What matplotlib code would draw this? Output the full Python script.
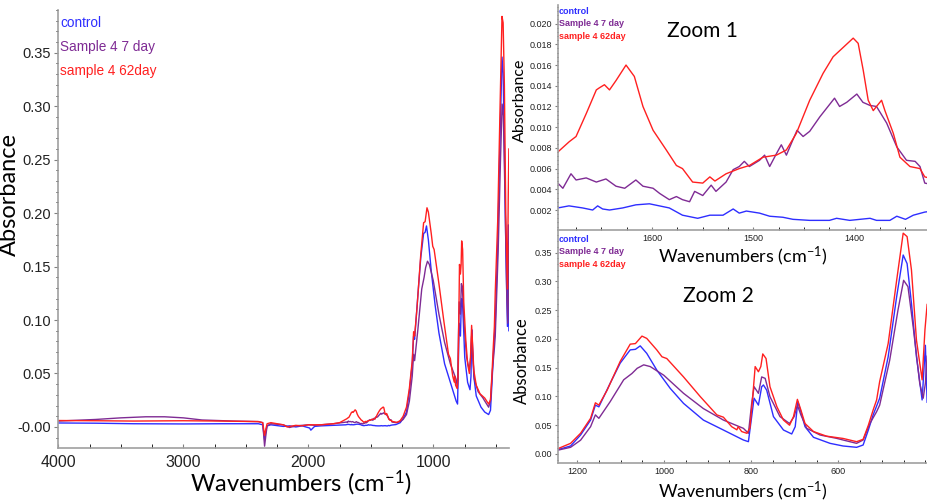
import matplotlib.pyplot as plt
from matplotlib.ticker import MultipleLocator, FixedLocator

# FTIR spectra: wavenumber (cm-1) and absorbance for each sample
wn_control = [4000, 3700, 3400, 3000, 2700, 2400, 2365, 2350, 2340, 2330, 2300, 2200, 2150,
              2100, 2050, 1990, 1980, 1950, 1900, 1800, 1700,
              1693, 1682, 1668.5, 1658.6, 1653.7, 1648.8, 1642, 1629, 1616, 1602.6, 1592.8, 1583,
              1570, 1555, 1543, 1530, 1520, 1514, 1507, 1494, 1484, 1471, 1461, 1444.5, 1425,
              1418, 1405, 1385, 1378.6, 1365.4, 1358.6, 1350, 1342.3, 1331, 1300, 1265,
              1242, 1215, 1192, 1169, 1158, 1150, 1124, 1101, 1078, 1066, 1055, 1040, 1017, 986,
              955.5, 910, 864, 818, 806.5, 799, 793.5, 783.5, 776, 772, 764.5, 749, 726, 707, 699,
              693, 686, 676.5, 657, 619, 589, 558, 543, 531, 520, 505, 485.5, 466, 451, 442, 432,
              420.5, 407.5, 400, 396]
abs_control = [0.0037, 0.0035, 0.003, 0.0028, 0.003, 0.003, 0.002, -0.012, -0.004, 0.001, 0.002,
               0.0005, 0.001, 0.0, 0.001, -0.001, -0.003, 0.0005, 0.001, 0.0015, 0.002,
               0.0022, 0.0024, 0.0022, 0.0020, 0.0024, 0.0021, 0.0020, 0.0022, 0.0025, 0.0026,
               0.0024, 0.0022, 0.0015, 0.0012, 0.0015, 0.0015, 0.0021, 0.0017, 0.0019, 0.0017,
               0.0014, 0.0013, 0.0011, 0.0010, 0.0010, 0.0012, 0.0010, 0.0012, 0.0010, 0.0010,
               0.0014, 0.0011, 0.0015, 0.0018, 0.0022, 0.004,
               0.008, 0.0139, 0.033, 0.059, 0.085, 0.082, 0.123, 0.158, 0.181, 0.182, 0.188,
               0.175, 0.146, 0.114, 0.088, 0.059, 0.0417, 0.0243, 0.0214, 0.065, 0.097, 0.085,
               0.117, 0.120, 0.111, 0.065, 0.0417, 0.0348, 0.0475, 0.091, 0.0736, 0.0475, 0.029,
               0.0185, 0.0139, 0.0116, 0.0156, 0.0417, 0.068, 0.097, 0.169, 0.2735, 0.346, 0.331,
               0.262, 0.169, 0.094, 0.189, 0.09]

wn_7day = [4000, 3700, 3500, 3300, 3150, 3000, 2850, 2600, 2400, 2365, 2350, 2340, 2330, 2300,
           2200, 2150, 2100, 2000, 1950, 1800, 1700,
           1693, 1688, 1680, 1675, 1665, 1655, 1645.5, 1635.6, 1627, 1616, 1609, 1599, 1592.5,
           1583, 1576, 1570, 1563, 1558, 1550, 1541.7, 1537, 1527, 1520, 1514, 1509, 1504, 1494,
           1489, 1484, 1477, 1472.5, 1467.5, 1461, 1457, 1451, 1444.5, 1434.5, 1420, 1415, 1408,
           1398, 1392, 1385, 1378.6, 1368.6, 1358.6, 1349, 1340.5, 1335.7, 1331, 1300, 1265,
           1242, 1215, 1192, 1169, 1158, 1150, 1124, 1093, 1074, 1062, 1047, 1032, 1001, 955.5,
           910, 864, 818, 806.5, 799, 793.5, 783.5, 776, 768, 757, 734, 712, 701.5, 694, 686,
           672.5, 642, 604, 589, 558, 543, 527.5, 512, 505, 482, 463, 450, 440, 428, 413, 405,
           400, 396]
abs_7day = [0.0055, 0.007, 0.0085, 0.0095, 0.0095, 0.0085, 0.0065, 0.0055, 0.005, 0.004, -0.018,
            -0.008, 0.001, 0.003, 0.002, -0.0005, 0.001, 0.002, 0.0015, 0.003, 0.0045,
            0.0046, 0.0041, 0.0055, 0.0049, 0.0051, 0.0047, 0.0050, 0.0043, 0.0041, 0.0049,
            0.0043, 0.0041, 0.0036, 0.0030, 0.0033, 0.0030, 0.0028, 0.0038, 0.0034, 0.0044,
            0.0038, 0.0047, 0.0059, 0.0062, 0.0067, 0.0062, 0.0068, 0.0073, 0.0062, 0.0075,
            0.0083, 0.0073, 0.0088, 0.0097, 0.0091, 0.0096, 0.0110, 0.0128, 0.0120, 0.0124,
            0.0132, 0.0124, 0.0121, 0.0120, 0.0104, 0.0081, 0.0068, 0.0067, 0.0062, 0.0046,
            0.004, 0.005,
            0.007, 0.0116, 0.024, 0.0475, 0.068, 0.062, 0.091, 0.129, 0.140, 0.149, 0.155, 0.152,
            0.137, 0.1055, 0.079, 0.059, 0.0446, 0.036, 0.088, 0.117, 0.1055, 0.134, 0.1315,
            0.0997, 0.065, 0.053, 0.065, 0.085, 0.068, 0.0446, 0.033, 0.0272, 0.0243, 0.0185,
            0.0243, 0.053, 0.0736, 0.085, 0.163, 0.250, 0.302, 0.291, 0.221, 0.123, 0.097,
            0.123, 0.17]

wn_62day = [4000, 3700, 3400, 3000, 2700, 2400, 2365, 2350, 2340, 2330, 2300, 2200, 2170, 2100,
            2050, 2000, 1900, 1800, 1750,
            1693, 1681.7, 1675, 1665, 1655, 1652, 1647, 1642, 1635.6, 1625.7, 1617.5, 1609, 1599,
            1586, 1576, 1570, 1560, 1550, 1543, 1538, 1527, 1514, 1504, 1490.6, 1477.4, 1467.5,
            1457.7, 1444.5, 1431.3, 1421.4, 1411.5, 1401.6, 1396.7, 1391.7, 1386.8, 1381.8,
            1378.6, 1373.6, 1370.3, 1362, 1355.5, 1345.6, 1335.7, 1331, 1290, 1265,
            1242, 1215, 1192, 1169, 1158, 1150, 1131, 1101, 1078, 1066, 1051, 1040, 1017, 1005,
            994, 955.5, 917, 879, 864, 845, 833, 830, 822, 810, 803, 796.5, 791, 783.5, 778,
            773.5, 766, 757, 741, 726, 712, 703, 694, 686, 676.5, 657, 627, 589, 558, 543, 531,
            520, 512, 505, 485.5, 466, 451, 442, 432, 420.5, 407.5, 401, 396]
abs_62day = [0.006, 0.0058, 0.0055, 0.0058, 0.0055, 0.005, 0.004, -0.008, -0.002, 0.003, 0.004,
             0.002, 0.0, 0.0015, 0.001, 0.002, 0.002, 0.003, 0.004,
             0.0076, 0.0086, 0.0091, 0.0113, 0.0136, 0.0138, 0.0141, 0.0136, 0.0145, 0.0160,
             0.0149, 0.0120, 0.0097, 0.0078, 0.0063, 0.0060, 0.0047, 0.0046, 0.0052, 0.0048,
             0.0055, 0.0060, 0.0063, 0.0071, 0.0073, 0.0078, 0.0094, 0.0126, 0.0152, 0.0168,
             0.0177, 0.0186, 0.0181, 0.0155, 0.0126, 0.0116, 0.0120, 0.0126, 0.0116, 0.0094,
             0.0071, 0.0062, 0.0060, 0.0052, 0.0042, 0.006,
             0.0099, 0.0185, 0.036, 0.062, 0.089, 0.085, 0.111, 0.161, 0.191, 0.192, 0.205,
             0.201, 0.181, 0.169, 0.166, 0.134, 0.0997, 0.068, 0.064, 0.0475, 0.042, 0.0475,
             0.039, 0.036, 0.045, 0.100, 0.152, 0.143, 0.152, 0.174, 0.166, 0.117, 0.082, 0.059,
             0.050, 0.065, 0.095, 0.0765, 0.053, 0.039, 0.031, 0.027, 0.0214, 0.0255, 0.050,
             0.0765, 0.094, 0.126, 0.192, 0.302, 0.384, 0.378, 0.320, 0.198, 0.129, 0.216, 0.26]

series_names = ['control', 'Sample 4 7 day', 'sample 4 62day']
series_colors = ['#2e2eff', '#7f2b94', '#ff2020']

main_yticks = [0.0, 0.05, 0.10, 0.15, 0.20, 0.25, 0.30, 0.35]
main_ylabels = ['-0.00', '0.05', '0.10', '0.15', '0.20', '0.25', '0.30', '0.35']
main_xticks = [4000, 3000, 2000, 1000]
zoom1_yticks = [0.002, 0.004, 0.006, 0.008, 0.010, 0.012, 0.014, 0.016, 0.018, 0.020]
zoom1_xticks = [1600, 1500, 1400]
zoom2_yticks = [0.0, 0.05, 0.10, 0.15, 0.20, 0.25, 0.30, 0.35]
zoom2_xticks = [1200, 1000, 800, 600]

plt.rcParams['mathtext.fontset'] = 'custom'
plt.rcParams['mathtext.rm'] = 'Lato'
plt.rcParams['mathtext.default'] = 'rm'
label_font = ['Lato', 'DejaVu Sans']
tick_font = ['Liberation Sans', 'DejaVu Sans']

W, H = 928, 501
fig = plt.figure(figsize=(W / 100, H / 100), dpi=100)


def box(left, top, right, bottom):
    return [left / W, 1 - bottom / H, (right - left) / W, (bottom - top) / H]


ax = fig.add_axes(box(58.3, 10, 509, 448))
ax2 = fig.add_axes(box(557.5, 230, 928, 463.3))
ax1 = fig.add_axes(box(557.5, 5, 928, 230))

data = [(wn_control, abs_control), (wn_7day, abs_7day), (wn_62day, abs_62day)]
for a in (ax, ax1, ax2):
    a.set_facecolor('none')
    for (x, y), c in zip(data, series_colors):
        a.plot(x, y, color=c, lw=1.0)
    for s in ('top', 'right'):
        a.spines[s].set_visible(False)
    for s in ('left', 'bottom'):
        a.spines[s].set_color('#a0a0a0')
        a.spines[s].set_linewidth(1.2)
    a.tick_params(colors='#808080', labelcolor='#222222')

# full spectrum
ax.set_xlim(4000, 395)
ax.set_ylim(-0.0197, 0.390)
ax.yaxis.set_major_locator(FixedLocator(main_yticks))
ax.set_yticklabels(main_ylabels, family=tick_font, fontsize=10.5)
ax.xaxis.set_major_locator(FixedLocator(main_xticks))
ax.set_xticklabels([str(t) for t in main_xticks], family=tick_font, fontsize=11.5)
ax.xaxis.set_minor_locator(MultipleLocator(250))
ax.yaxis.set_minor_locator(MultipleLocator(0.01))
ax.tick_params(axis='x', which='both', direction='in', length=3, pad=5)
ax.tick_params(axis='y', which='major', direction='out', length=3, pad=2)
ax.tick_params(axis='y', which='minor', direction='out', length=1.5)
ax.set_ylabel('Absorbance', family=label_font, fontsize=17)
ax.yaxis.set_label_coords(-0.086, 0.578)
ax.set_xlabel('Wavenumbers (cm$^{-1}$)', family=label_font, fontsize=17)
ax.xaxis.set_label_coords(0.538, -0.048)
for i, (name, c) in enumerate(zip(series_names, series_colors)):
    ax.text(0.004, 0.971 - i * 0.055, name, transform=ax.transAxes, color=c,
            family=tick_font, fontsize=9.8, va='center', ha='left')

# zoom 1
ax1.set_xlim(1693.3, 1327.8)
ax1.set_ylim(0.00007, 0.0218)
ax1.yaxis.set_major_locator(FixedLocator(zoom1_yticks))
ax1.set_yticklabels(['%.3f' % t for t in zoom1_yticks], family=tick_font, fontsize=6.5)
ax1.xaxis.set_major_locator(FixedLocator(zoom1_xticks))
ax1.set_xticklabels([str(t) for t in zoom1_xticks], family=tick_font, fontsize=6.5)
ax1.xaxis.set_minor_locator(MultipleLocator(25))
ax1.yaxis.set_minor_locator(MultipleLocator(0.0004))
ax1.tick_params(axis='x', which='both', direction='in', length=2.5, pad=3)
ax1.tick_params(axis='y', which='major', direction='out', length=2.5, pad=1.5)
ax1.tick_params(axis='y', which='minor', direction='out', length=1)
ax1.set_ylabel('Absorbance', family=label_font, fontsize=11.5)
ax1.yaxis.set_label_coords(-0.082, 0.578)
ax1.set_xlabel('Wavenumbers (cm$^{-1}$)', family=label_font, fontsize=13, labelpad=1)
ax1.text(0.39, 0.885, 'Zoom 1', transform=ax1.transAxes, family=label_font,
         fontsize=15, ha='center', va='center')
for i, (name, c) in enumerate(zip(series_names, series_colors)):
    ax1.text(0.003, 0.97 - i * 0.054, name, transform=ax1.transAxes, color=c,
             family=tick_font, fontsize=6.5, fontweight='bold', va='center', ha='left')

# zoom 2
ax2.set_xlim(1245, 394)
ax2.set_ylim(-0.0162, 0.3895)
ax2.yaxis.set_major_locator(FixedLocator(zoom2_yticks))
ax2.set_yticklabels(['%.2f' % t for t in zoom2_yticks], family=tick_font, fontsize=6.5)
ax2.xaxis.set_major_locator(FixedLocator(zoom2_xticks))
ax2.set_xticklabels([str(t) for t in zoom2_xticks], family=tick_font, fontsize=6.5)
ax2.xaxis.set_minor_locator(MultipleLocator(50))
ax2.yaxis.set_minor_locator(MultipleLocator(0.01))
ax2.tick_params(axis='x', which='both', direction='in', length=2.5, pad=3)
ax2.tick_params(axis='y', which='major', direction='out', length=2.5, pad=1.5)
ax2.tick_params(axis='y', which='minor', direction='out', length=1)
ax2.set_ylabel('Absorbance', family=label_font, fontsize=12)
ax2.yaxis.set_label_coords(-0.074, 0.438)
ax2.set_xlabel('Wavenumbers (cm$^{-1}$)', family=label_font, fontsize=13, labelpad=2)
ax2.text(0.435, 0.715, 'Zoom 2', transform=ax2.transAxes, family=label_font,
         fontsize=15, ha='center', va='center')
for i, (name, c) in enumerate(zip(series_names, series_colors)):
    ax2.text(0.003, 0.96 - i * 0.054, name, transform=ax2.transAxes, color=c,
             family=tick_font, fontsize=6.5, fontweight='bold', va='center', ha='left')

fig.savefig('out.png', dpi=100)
